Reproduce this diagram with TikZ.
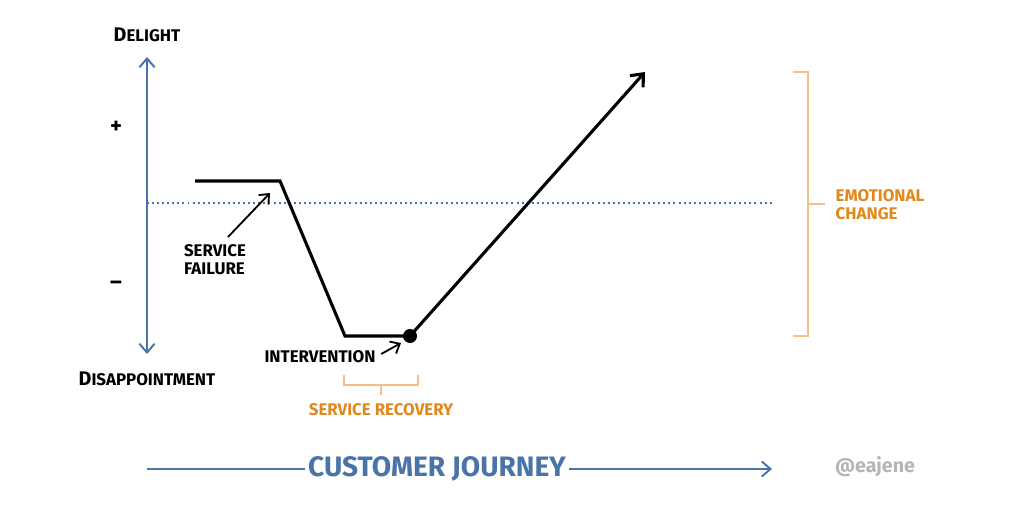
\documentclass[tikz,border=0pt]{standalone}
\usepackage{fontspec}
\setmainfont{Fira Sans}
\usetikzlibrary{positioning, arrows.meta}
\definecolor{axisblue}{HTML}{4A74A8}
\definecolor{bracketorange}{HTML}{F2C088}
\definecolor{labelorange}{HTML}{E0881C}
\definecolor{signgray}{HTML}{B4B4B4}
\tikzset{
    hand/.style={font=\bfseries\fontsize{12}{13}\selectfont, align=left, inner sep=1pt},
    axis/.style={axisblue, line width=1.4pt, >={Straight Barb[length=2.2mm, width=3.8mm]}},
    curve/.style={black, line width=2.2pt, >={Straight Barb[length=2.6mm, width=4.4mm]}},
    pointer/.style={->, black, line width=1.3pt, >={Straight Barb[length=2mm, width=3.4mm]}},
    bracket/.style={bracketorange, line width=1.4pt}
}
\begin{document}
\begin{tikzpicture}[x=0.025cm, y=-0.025cm]
        \useasboundingbox (0,0) rectangle (1012,506);

        % Nodes
        \node[hand] (Delight) at (147, 35) {{\fontsize{14}{15}\selectfont D}ELIGHT};
        \node[hand, font=\bfseries\fontsize{16}{17}\selectfont] (Plus) at (116, 127) {+};
        \node[hand, font=\bfseries\fontsize{16}{17}\selectfont] (Minus) at (116, 285) {--};
        \node[hand] (Disappointment) at (147, 379) {{\fontsize{14}{15}\selectfont D}ISAPPOINTMENT};
        \node[hand] (Failure) at (215, 260) {SERVICE\\FAILURE};
        \node[hand] (Intervention) at (320, 357) {INTERVENTION};
        \node[hand, labelorange] (Recovery) at (381, 410) {SERVICE RECOVERY};
        \node[hand, labelorange] (Change) at (834, 205) [anchor=west] {EMOTIONAL\\CHANGE};
        \node[font=\bfseries\fontsize{20}{22}\selectfont, axisblue, inner sep=2pt] (Journey) at (437, 469) {CUSTOMER JOURNEY};
        \node[font=\bfseries\fontsize{14}{15}\selectfont, signgray] (Credit) at (875, 467) {@eajene};

        % Coordinates
        \coordinate (Top) at (147, 57);
        \coordinate (Bottom) at (147, 354);
        \coordinate (Start) at (195, 181);
        \coordinate (Drop) at (280, 181);
        \coordinate (Low) at (345, 336);
        \coordinate (Dot) at (410, 336);
        \coordinate (Peak) at (645, 72);
        \coordinate (JourneyStart) at (147, 469);
        \coordinate (JourneyEnd) at (772, 469);

        % Axes
        \draw[axis, <->] (Bottom) -- (Top);
        \draw[axisblue, line width=1.2pt, dash pattern=on 1.4pt off 2.2pt] (147, 203) -- (772, 203);
        \draw[axis] (JourneyStart) -- (Journey.west);
        \draw[axis, ->] (Journey.east) -- (JourneyEnd);

        % Journey curve
        \draw[curve, line join=miter] (Start) -- (Drop) -- (Low) -- (Dot);
        \draw[curve, ->] (Dot) -- (Peak);
        \fill (Dot) circle (7);

        % Arrows
        \draw[pointer] (228, 237) -- (270, 193);
        \draw[pointer] (Intervention.east) ++(4,-3) -- (401, 343);

        % Brackets
        \draw[bracket] (344, 375) -- (344, 385) -- (418, 385) -- (418, 375);
        \draw[bracket] (381, 385) -- (381, 395);
        \draw[bracket] (793, 72) -- (808, 72) -- (808, 336) -- (793, 336);
        \draw[bracket] (808, 204) -- (825, 204);
    \end{tikzpicture}
\end{document}
